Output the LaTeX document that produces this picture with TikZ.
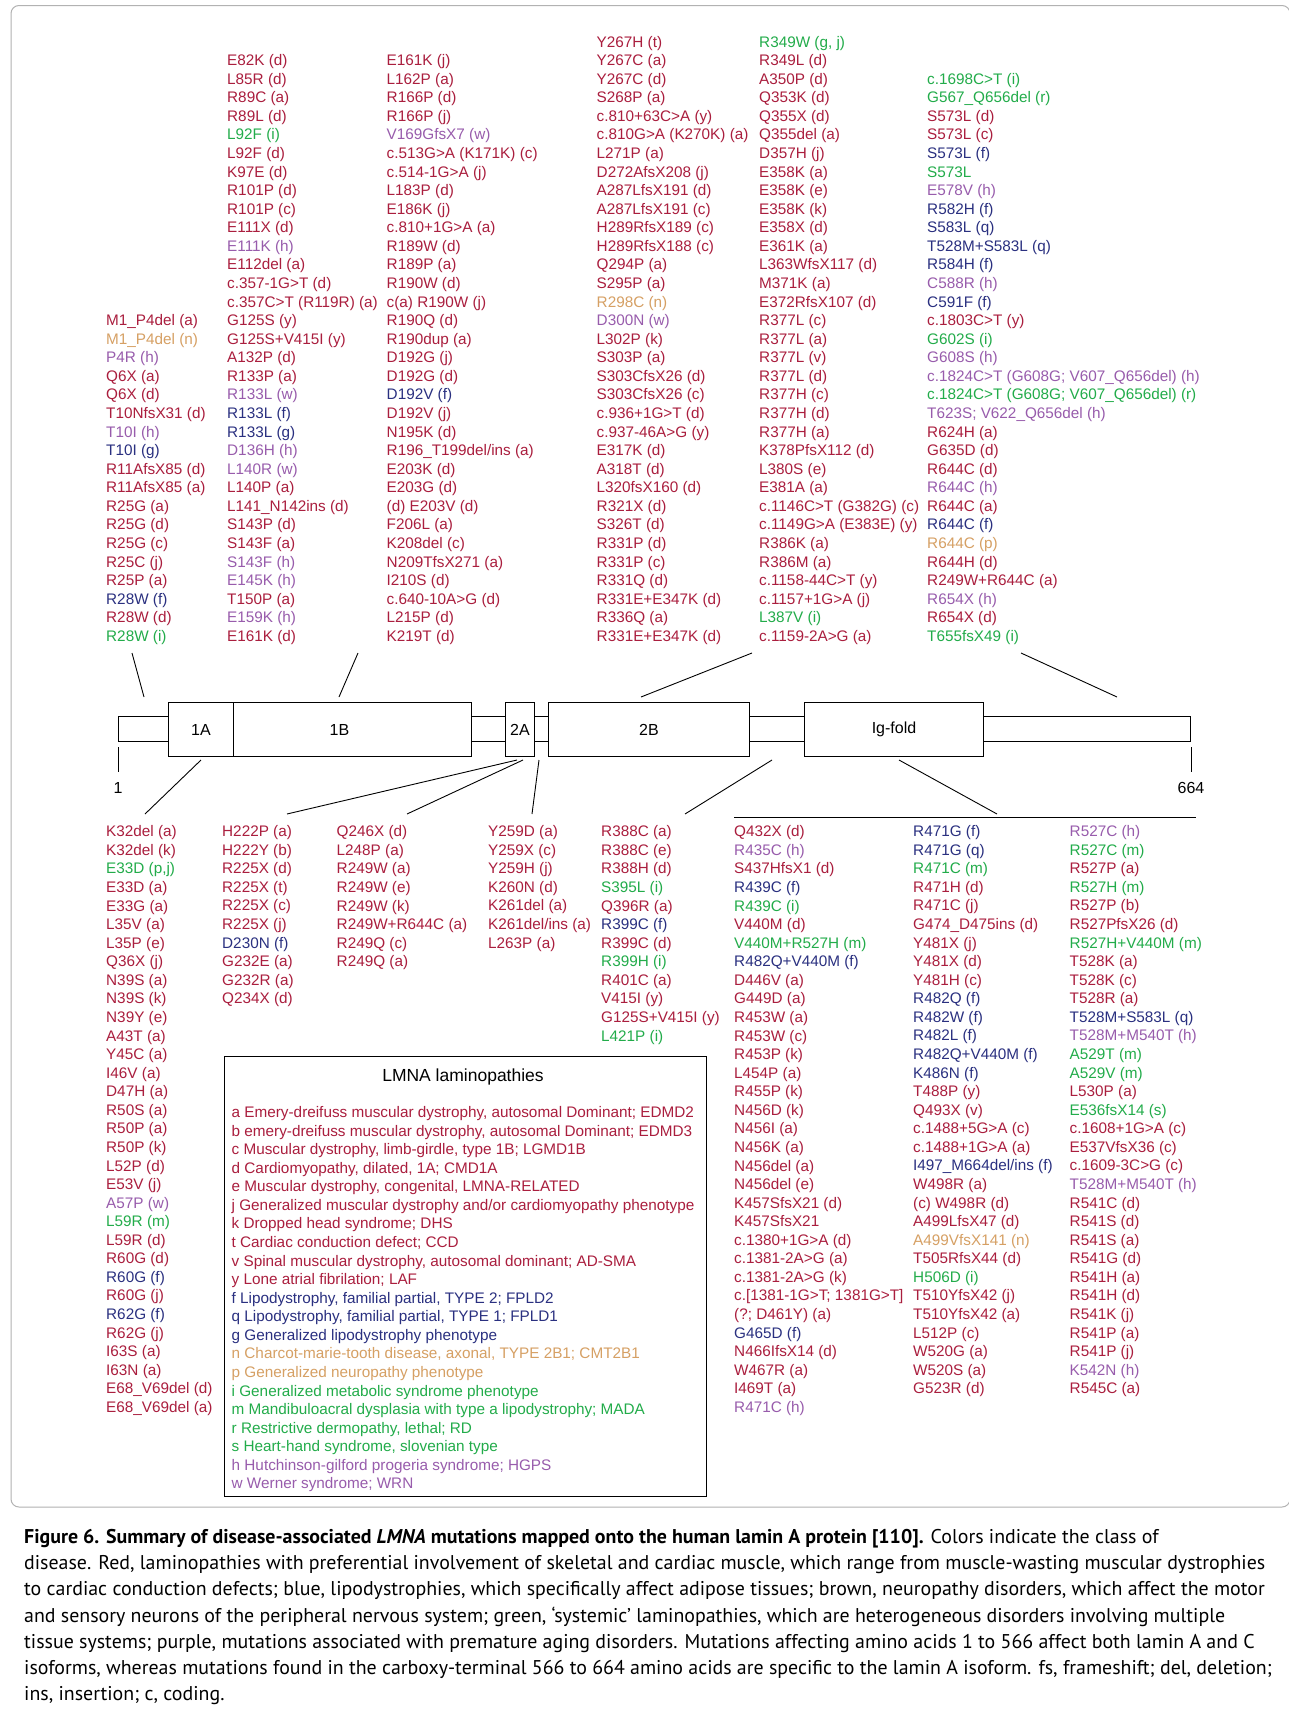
\documentclass[tikz,border=0pt]{standalone}
\usepackage{fontspec}
\setmainfont{Liberation Sans}
\newfontfamily\captionfamily{PT Sans}
\usetikzlibrary{positioning}
\usetikzlibrary{calc}
\definecolor{muscle colour}{RGB}{170,30,62}
\definecolor{lipo colour}{RGB}{42,48,128}
\definecolor{neuro colour}{RGB}{214,160,100}
\definecolor{system colour}{RGB}{34,172,74}
\definecolor{aging colour}{RGB}{152,92,172}
\colorlet{frame colour}{black!30}
\newcommand{\mutfont}{\fontsize{15.3}{18.57}\selectfont}
\newcommand{\lipo}[1]{{\color{lipo colour}#1}}
\newcommand{\neuro}[1]{{\color{neuro colour}#1}}
\newcommand{\syst}[1]{{\color{system colour}#1}}
\newcommand{\aging}[1]{{\color{aging colour}#1}}
\tikzset{
    % Thin black lines for the protein and the leads
    lead/.style={line width=0.9pt},
%
    % Lists of mutations, red unless told otherwise; placed by the
    % baseline of their last line
    mutation list/.style={anchor=base west, align=left, inner sep=0,
        text=muscle colour, font=\mutfont},
    % The protein bar
    linker/.style={draw, fill=white, line width=1pt, inner sep=0,
        anchor=north west},
    domain box/.style={linker, minimum height=54pt,
        font=\fontsize{16}{18}\selectfont},
%
    % We almost always want centre aligned node text
    every node/.style={align=center},
}

\begin{document}
\begin{tikzpicture}[x=1pt, y=-1pt]

\path [use as bounding box, fill=white] (0,0) rectangle (1289,1713);
\draw [frame colour, line width=1pt, rounded corners=8pt]
    (11,1507) -- (11,5.5) -- (1290,5.5) -- (1290,1507) -- cycle;

% The lamin A chain, residues 1 to 664
\node [linker, minimum width=1072pt, minimum height=25.5pt] (tail) at (118,715.5) {};
\node [domain box, minimum width=65pt] (dom1A) at (168,702) {1A};
\node [domain box, minimum width=238pt] (dom1B) at (233,702) {\hspace*{-26pt}1B};
\node [domain box, minimum width=29pt] (dom2A) at (505,702) {2A};
\node [domain box, minimum width=201pt] (dom2B) at (548,702) {2B};
\node [domain box, minimum width=179pt] (domIg) at (804,702) {Ig-fold};

\draw [lead] (tail.south west) ++(0,5) -- ++(0,25)
    node [below=7pt, font=\fontsize{16}{18}\selectfont] (first) {1};
\draw [lead] (tail.south east) ++(0,5) -- ++(0,25)
    node [below=7pt, font=\fontsize{16}{18}\selectfont] (last) {664};

% Mutations above the chain, all ending on one line
\node [mutation list] (top a) at (106,641.3) {
M1\_P4del (a)\\ \neuro{M1\_P4del (n)}\\ \aging{P4R (h)}\\ Q6X (a)\\ Q6X (d)\\
T10NfsX31 (d)\\ \aging{T10I (h)}\\ \lipo{T10I (g)}\\ R11AfsX85 (d)\\
R11AfsX85 (a)\\ R25G (a)\\ R25G (d)\\ R25G (c)\\ R25C (j)\\ R25P (a)\\
\lipo{R28W (f)}\\ R28W (d)\\ \syst{R28W (i)}};

\node [mutation list] (top b) at (227,641.3) {
E82K (d)\\ L85R (d)\\ R89C (a)\\ R89L (d)\\ \syst{L92F (i)}\\ L92F (d)\\
K97E (d)\\ R101P (d)\\ R101P (c)\\ E111X (d)\\ \aging{E111K (h)}\\
E112del (a)\\ c.357-1G>T (d)\\ c.357C>T (R119R) (a)\\ G125S (y)\\
G125S+V415I (y)\\ A132P (d)\\ R133P (a)\\ \aging{R133L (w)}\\
\lipo{R133L (f)}\\ \lipo{R133L (g)}\\ \aging{D136H (h)}\\ \aging{L140R (w)}\\
L140P (a)\\ L141\_N142ins (d)\\ S143P (d)\\ S143F (a)\\ \aging{S143F (h)}\\
\aging{E145K (h)}\\ T150P (a)\\ \aging{E159K (h)}\\ E161K (d)};

\node [mutation list] (top c) at (386.5,641.3) {
E161K (j)\\ L162P (a)\\ R166P (d)\\ R166P (j)\\ \aging{V169GfsX7 (w)}\\
c.513G>A (K171K) (c)\\ c.514-1G>A (j)\\ L183P (d)\\ E186K (j)\\
c.810+1G>A (a)\\ R189W (d)\\ R189P (a)\\ R190W (d)\\ c(a) R190W (j)\\
R190Q (d)\\ R190dup (a)\\ D192G (j)\\ D192G (d)\\ \lipo{D192V (f)}\\
D192V (j)\\ N195K (d)\\ R196\_T199del/ins (a)\\ E203K (d)\\ E203G (d)\\
(d) E203V (d)\\ F206L (a)\\ K208del (c)\\ N209TfsX271 (a)\\ I210S (d)\\
c.640-10A>G (d)\\ L215P (d)\\ K219T (d)};

\node [mutation list] (top d) at (596.5,641.3) {
Y267H (t)\\ Y267C (a)\\ Y267C (d)\\ S268P (a)\\ c.810+63C>A (y)\\
c.810G>A (K270K) (a)\\ L271P (a)\\ D272AfsX208 (j)\\ A287LfsX191 (d)\\
A287LfsX191 (c)\\ H289RfsX189 (c)\\ H289RfsX188 (c)\\ Q294P (a)\\
S295P (a)\\ \neuro{R298C (n)}\\ \aging{D300N (w)}\\ L302P (k)\\ S303P (a)\\
S303CfsX26 (d)\\ S303CfsX26 (c)\\ c.936+1G>T (d)\\ c.937-46A>G (y)\\
E317K (d)\\ A318T (d)\\ L320fsX160 (d)\\ R321X (d)\\ S326T (d)\\
R331P (d)\\ R331P (c)\\ R331Q (d)\\ R331E+E347K (d)\\ R336Q (a)\\
R331E+E347K (d)};

\node [mutation list] (top e) at (759,641.3) {
\syst{R349W (g, j)}\\ R349L (d)\\ A350P (d)\\ Q353K (d)\\ Q355X (d)\\
Q355del (a)\\ D357H (j)\\ E358K (a)\\ E358K (e)\\ E358K (k)\\ E358X (d)\\
E361K (a)\\ L363WfsX117 (d)\\ M371K (a)\\ E372RfsX107 (d)\\ R377L (c)\\
R377L (a)\\ R377L (v)\\ R377L (d)\\ R377H (c)\\ R377H (d)\\ R377H (a)\\
K378PfsX112 (d)\\ L380S (e)\\ E381A (a)\\ c.1146C>T (G382G) (c)\\
c.1149G>A (E383E) (y)\\ R386K (a)\\ R386M (a)\\ c.1158-44C>T (y)\\
c.1157+1G>A (j)\\ \syst{L387V (i)}\\ c.1159-2A>G (a)};

\node [mutation list] (top f) at (927,641.3) {
\syst{c.1698C>T (i)}\\ \syst{G567\_Q656del (r)}\\ S573L (d)\\ S573L (c)\\
\lipo{S573L (f)}\\ \syst{S573L}\\ \aging{E578V (h)}\\ \lipo{R582H (f)}\\
\lipo{S583L (q)}\\ \lipo{T528M+S583L (q)}\\ \lipo{R584H (f)}\\
\aging{C588R (h)}\\ \lipo{C591F (f)}\\ c.1803C>T (y)\\ \syst{G602S (i)}\\
\aging{G608S (h)}\\ \aging{c.1824C>T (G608G; V607\_Q656del) (h)}\\
\syst{c.1824C>T (G608G; V607\_Q656del) (r)}\\
\aging{T623S; V622\_Q656del (h)}\\ R624H (a)\\ G635D (d)\\ R644C (d)\\
\aging{R644C (h)}\\ R644C (a)\\ \lipo{R644C (f)}\\ \neuro{R644C (p)}\\
R644H (d)\\ R249W+R644C (a)\\ \aging{R654X (h)}\\ R654X (d)\\
\syst{T655fsX49 (i)}};

% Mutations below the chain, all starting on one line (836.7)
\node [mutation list] (bot a) at (106,1412.4) {
K32del (a)\\ K32del (k)\\ \syst{E33D (p,j)}\\ E33D (a)\\ E33G (a)\\
L35V (a)\\ L35P (e)\\ Q36X (j)\\ N39S (a)\\ N39S (k)\\ N39Y (e)\\ A43T (a)\\
Y45C (a)\\ I46V (a)\\ D47H (a)\\ R50S (a)\\ R50P (a)\\ R50P (k)\\ L52P (d)\\
E53V (j)\\ \aging{A57P (w)}\\ \syst{L59R (m)}\\ L59R (d)\\ R60G (d)\\
\lipo{R60G (f)}\\ R60G (j)\\ \lipo{R62G (f)}\\ R62G (j)\\ I63S (a)\\
I63N (a)\\ E68\_V69del (d)\\ E68\_V69del (a)};

\node [mutation list] (bot b) at (222,1003.8) {
H222P (a)\\ H222Y (b)\\ R225X (d)\\ R225X (t)\\ R225X (c)\\ R225X (j)\\
\lipo{D230N (f)}\\ G232E (a)\\ G232R (a)\\ Q234X (d)};

\node [mutation list] (bot c) at (336.5,966.7) {
Q246X (d)\\ L248P (a)\\ R249W (a)\\ R249W (e)\\ R249W (k)\\
R249W+R644C (a)\\ R249Q (c)\\ R249Q (a)};

\node [mutation list] (bot d) at (488,948.1) {
Y259D (a)\\ Y259X (c)\\ Y259H (j)\\ K260N (d)\\ K261del (a)\\
K261del/ins (a)\\ L263P (a)};

\node [mutation list] (bot e) at (601,1041) {
R388C (a)\\ R388C (e)\\ R388H (d)\\ \syst{S395L (i)}\\ Q396R (a)\\
\lipo{R399C (f)}\\ R399C (d)\\ \syst{R399H (i)}\\ R401C (a)\\ V415I (y)\\
G125S+V415I (y)\\ \syst{L421P (i)}};

\node [mutation list] (bot f) at (734,1412.4) {
Q432X (d)\\ \aging{R435C (h)}\\ S437HfsX1 (d)\\ \lipo{R439C (f)}\\
\syst{R439C (i)}\\ V440M (d)\\ \syst{V440M+R527H (m)}\\
\lipo{R482Q+V440M (f)}\\ D446V (a)\\ G449D (a)\\ R453W (a)\\ R453W (c)\\
R453P (k)\\ L454P (a)\\ R455P (k)\\ N456D (k)\\ N456I (a)\\ N456K (a)\\
N456del (a)\\ N456del (e)\\ K457SfsX21 (d)\\ K457SfsX21\\
c.1380+1G>A (d)\\ c.1381-2A>G (a)\\ c.1381-2A>G (k)\\
c.[1381-1G>T; 1381G>T]\\ (?; D461Y) (a)\\ \lipo{G465D (f)}\\
N466IfsX14 (d)\\ W467R (a)\\ I469T (a)\\ \aging{R471C (h)}};

\node [mutation list] (bot g) at (913,1393.8) {
\lipo{R471G (f)}\\ \lipo{R471G (q)}\\ \syst{R471C (m)}\\ R471H (d)\\
R471C (j)\\ G474\_D475ins (d)\\ Y481X (j)\\ Y481X (d)\\ Y481H (c)\\
\lipo{R482Q (f)}\\ \lipo{R482W (f)}\\ \lipo{R482L (f)}\\
\lipo{R482Q+V440M (f)}\\ \lipo{K486N (f)}\\ T488P (y)\\ Q493X (v)\\
c.1488+5G>A (c)\\ c.1488+1G>A (a)\\ \lipo{I497\_M664del/ins (f)}\\
W498R (a)\\ (c) W498R (d)\\ A499LfsX47 (d)\\ \neuro{A499VfsX141 (n)}\\
T505RfsX44 (d)\\ \syst{H506D (i)}\\ T510YfsX42 (j)\\ T510YfsX42 (a)\\
L512P (c)\\ W520G (a)\\ W520S (a)\\ G523R (d)};

\node [mutation list] (bot h) at (1069.5,1393.8) {
\aging{R527C (h)}\\ \syst{R527C (m)}\\ R527P (a)\\ \syst{R527H (m)}\\
R527P (b)\\ R527PfsX26 (d)\\ \syst{R527H+V440M (m)}\\ T528K (a)\\
T528K (c)\\ T528R (a)\\ \lipo{T528M+S583L (q)}\\ \aging{T528M+M540T (h)}\\
\syst{A529T (m)}\\ \syst{A529V (m)}\\ L530P (a)\\ \syst{E536fsX14 (s)}\\
c.1608+1G>A (c)\\ E537VfsX36 (c)\\ c.1609-3C>G (c)\\
\aging{T528M+M540T (h)}\\ R541C (d)\\ R541S (d)\\ R541S (a)\\ R541G (d)\\
R541H (a)\\ R541H (d)\\ R541K (j)\\ R541P (a)\\ R541P (j)\\
\aging{K542N (h)}\\ R545C (a)};

% Leads from the lists to the chain
\foreach \name/\pos in {
    lead a/{132,653}, hit a/{144,697}, lead b/{358,653}, hit b/{339,697},
    lead c/{752,653}, hit c/{641,697}, lead d/{1021,653}, hit d/{1117,697},
    hit e/{201,760}, lead e/{145,814}, hit f/{517,760}, lead f/{287,814},
    hit g/{523,760}, lead g/{407,814}, hit h/{539,760}, lead h/{532,814},
    hit i/{772,760}, lead i/{685,814}, hit j/{899,760}, lead j/{997,814},
    rule start/{734,817}, rule end/{1196,817}}
{
    \coordinate (\name) at (\pos);
}
\foreach \ll in {a,...,j}
{
    \draw [lead] (lead \ll) -- (hit \ll);
}
\draw [lead] (rule start) -- (rule end);

% Key to the disease letters
\node [draw, line width=1pt, anchor=north west, minimum width=482pt,
    minimum height=440pt, inner sep=0] (key) at (224,1056) {};
\node [anchor=base, font=\fontsize{17.5}{20}\selectfont] (key title)
    at (463,1081) {LMNA laminopathies};
\node [mutation list] (key list) at (231.5,1488.9) {
a Emery-dreifuss muscular dystrophy, autosomal Dominant; EDMD2\\
b emery-dreifuss muscular dystrophy, autosomal Dominant; EDMD3\\
c Muscular dystrophy, limb-girdle, type 1B; LGMD1B\\
d Cardiomyopathy, dilated, 1A; CMD1A\\
e Muscular dystrophy, congenital, LMNA-RELATED\\
j Generalized muscular dystrophy and/or cardiomyopathy phenotype\\
k Dropped head syndrome; DHS\\
t Cardiac conduction defect; CCD\\
v Spinal muscular dystrophy, autosomal dominant; AD-SMA\\
y Lone atrial fibrilation; LAF\\
\lipo{f Lipodystrophy, familial partial, TYPE 2; FPLD2}\\
\lipo{q Lipodystrophy, familial partial, TYPE 1; FPLD1}\\
\lipo{g Generalized lipodystrophy phenotype}\\
\neuro{n Charcot-marie-tooth disease, axonal, TYPE 2B1; CMT2B1}\\
\neuro{p Generalized neuropathy phenotype}\\
\syst{i Generalized metabolic syndrome phenotype}\\
\syst{m Mandibuloacral dysplasia with type a lipodystrophy; MADA}\\
\syst{r Restrictive dermopathy, lethal; RD}\\
\syst{s Heart-hand syndrome, slovenian type}\\
\aging{h Hutchinson-gilford progeria syndrome; HGPS}\\
\aging{w Werner syndrome; WRN}};

% Caption
\node [anchor=base west, align=left, inner sep=0,
    font=\captionfamily\fontsize{19.9}{26.2}\selectfont] (caption) at (24,1700.7) {
\textbf{Figure 6. Summary of disease-associated \textit{LMNA} mutations mapped onto the human lamin A protein [110].} Colors indicate the class of\\
disease. Red, laminopathies with preferential involvement of skeletal and cardiac muscle, which range from muscle-wasting muscular dystrophies\\
to cardiac conduction defects; blue, lipodystrophies, which specifically affect adipose tissues; brown, neuropathy disorders, which affect the motor\\
and sensory neurons of the peripheral nervous system; green, ‘systemic’ laminopathies, which are heterogeneous disorders involving multiple\\
tissue systems; purple, mutations associated with premature aging disorders. Mutations affecting amino acids 1 to 566 affect both lamin A and C\\
isoforms, whereas mutations found in the carboxy-terminal 566 to 664 amino acids are specific to the lamin A isoform. fs, frameshift; del, deletion;\\
ins, insertion; c, coding.};

\end{tikzpicture}
\end{document}
